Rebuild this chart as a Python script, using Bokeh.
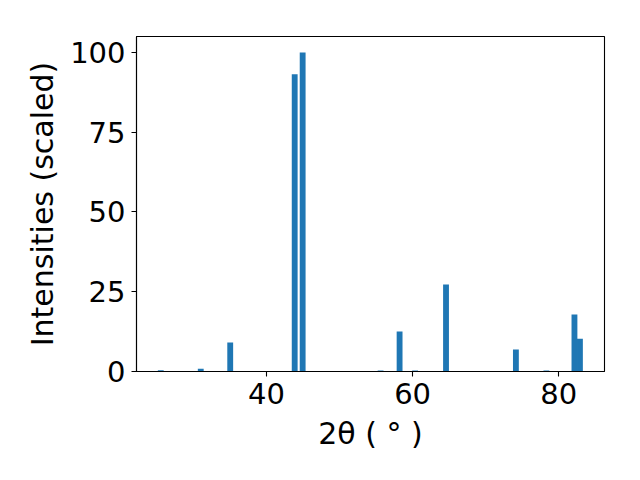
from bokeh.plotting import figure
from bokeh.models import Range1d, FixedTicker
from bokeh.embed import file_html
from bokeh.resources import INLINE

two_theta = [25.55, 31.02, 35.05, 43.87, 44.96, 55.62, 58.22, 60.34, 64.57, 74.13, 78.30, 82.14, 82.89]
intensity = [0.4, 0.9, 9.1, 93.2, 100.0, 0.3, 12.5, 0.3, 27.3, 6.9, 0.3, 17.9, 10.3]
x_ticks = [40, 60, 80]
y_ticks = [0, 25, 50, 75, 100]

p = figure(width=624, height=464, output_backend="svg", toolbar_location=None,
           x_range=Range1d(22.23, 86.25), y_range=Range1d(0, 105),
           min_border_left=136, min_border_right=20, min_border_top=36, min_border_bottom=93)

p.vbar(x=two_theta, top=intensity, width=0.8, bottom=0, color="#1f77b4", line_color=None)

p.xgrid.visible = False
p.ygrid.visible = False
p.outline_line_color = "black"
p.outline_line_width = 1.1
p.background_fill_color = "white"
p.border_fill_color = "white"

for ax in (p.xaxis, p.yaxis):
    ax.axis_line_color = "black"
    ax.axis_line_width = 1.1
    ax.major_tick_line_color = "black"
    ax.major_tick_line_width = 1.1
    ax.major_tick_out = 5
    ax.major_tick_in = 0
    ax.minor_tick_line_color = None
    ax.major_label_text_font = "DejaVu Sans"
    ax.major_label_text_font_size = "29px"
    ax.major_label_text_color = "black"
    ax.axis_label_text_font = "DejaVu Sans"
    ax.axis_label_text_font_size = "30px"
    ax.axis_label_text_font_style = "normal"
    ax.axis_label_text_color = "black"

p.xaxis.ticker = FixedTicker(ticks=x_ticks)
p.yaxis.ticker = FixedTicker(ticks=y_ticks)
p.xaxis.major_label_standoff = 6
p.yaxis.major_label_standoff = 6
p.xaxis.axis_label = "2θ ( ° )"
p.yaxis.axis_label = "Intensities (scaled)"
p.xaxis.axis_label_standoff = 9
p.yaxis.axis_label_standoff = 7

open("out.html", "w").write(file_html(p, INLINE))
